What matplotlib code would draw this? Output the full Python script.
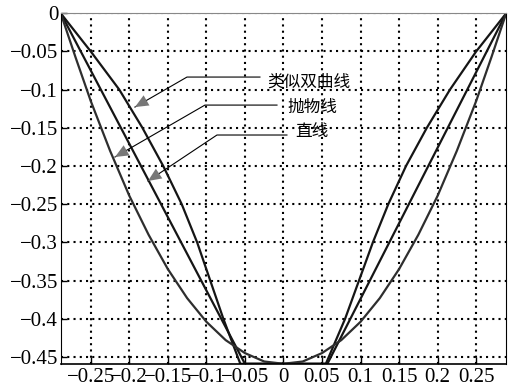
import matplotlib
matplotlib.use("Agg")
import matplotlib.pyplot as plt

# values
parab_x = [-0.289, -0.27, -0.25, -0.225, -0.2, -0.175, -0.15, -0.125, -0.1, -0.075, -0.05, -0.025, 0.0,
           0.025, 0.05, 0.075, 0.1, 0.125, 0.15, 0.175, 0.2, 0.225, 0.25, 0.27, 0.289]
parab_y = [0.0, -0.057, -0.115, -0.180, -0.239, -0.290, -0.335, -0.373, -0.404, -0.428, -0.445, -0.456, -0.459,
           -0.456, -0.445, -0.428, -0.404, -0.373, -0.335, -0.290, -0.239, -0.180, -0.115, -0.057, 0.0]

hyp_x = [-0.289, -0.250, -0.213, -0.183, -0.156, -0.132, -0.112, -0.095, -0.078, -0.056,
         0.055, 0.080, 0.098, 0.116, 0.136, 0.159, 0.186, 0.216, 0.250, 0.289]
hyp_y = [0.0, -0.05, -0.1, -0.15, -0.2, -0.25, -0.3, -0.35, -0.4, -0.459,
         -0.459, -0.4, -0.35, -0.3, -0.25, -0.2, -0.15, -0.1, -0.05, 0.0]

line_x = [-0.289, -0.05, 0.057, 0.289]
line_y = [0.0, -0.459, -0.459, 0.0]

xticks = [-0.25, -0.2, -0.15, -0.1, -0.05, 0, 0.05, 0.1, 0.15, 0.2, 0.25]
xtick_labels = ['\u22120.25', '\u22120.2', '\u22120.15', '\u22120.1', '\u22120.05', '0',
                '0.05', '0.1', '0.15', '0.2', '0.25']
yticks = [0, -0.05, -0.1, -0.15, -0.2, -0.25, -0.3, -0.35, -0.4, -0.45]
ytick_labels = ['0', '\u22120.05', '\u22120.1', '\u22120.15', '\u22120.2', '\u22120.25',
                '\u22120.3', '\u22120.35', '\u22120.4', '\u22120.45']

names = ['类似双曲线', '抛物线', '直线']

plt.rcParams['font.family'] = ['Liberation Serif', 'Noto Sans CJK SC']
plt.rcParams['xtick.labelsize'] = 15
plt.rcParams['ytick.labelsize'] = 15

fig = plt.figure(figsize=(5.08, 3.91), dpi=100)
ax = fig.add_axes([0.120, 0.069, 0.876, 0.897])

ax.plot(hyp_x, hyp_y, color='#151515', lw=1.6)
ax.plot(line_x, line_y, color='#151515', lw=1.6)
ax.plot(parab_x, parab_y, color='#2e2e2e', lw=1.6)

ax.set_xlim(-0.2887, 0.2887)
ax.set_ylim(-0.4593, 0)

ax.set_xticks(xticks, xtick_labels)
ax.set_yticks(yticks, ytick_labels)
ax.tick_params(axis='x', direction='in', length=5, width=1, pad=3)
ax.tick_params(axis='y', direction='in', length=4, width=1, pad=2)

ax.grid(True, color='black', lw=1.5, linestyle=(0, (1, 2)))
ax.set_axisbelow(True)
for side in ['left', 'right']:
    ax.spines[side].set_linewidth(0.8)
ax.spines['top'].set_color('#888888')
ax.spines['top'].set_linewidth(0.8)
ax.spines['bottom'].set_linewidth(1.2)

# leader lines: (text start, knee, arrow tip, text position)
leaders = [
    ((-0.0305, -0.0835), (-0.1252, -0.0835), (-0.1927, -0.1228), (-0.0214, -0.090)),
    ((-0.0084, -0.1202), (-0.1019, -0.1202), (-0.2186, -0.1882), (0.0045, -0.1228)),
    ((0.0045, -0.1594), (-0.0863, -0.1594), (-0.1758, -0.2196), (0.0149, -0.1542)),
]
for name, (end, knee, tip, tpos) in zip(names, leaders):
    ax.plot([end[0], knee[0], tip[0]], [end[1], knee[1], tip[1]], color='black', lw=0.8)
    ax.annotate('', xy=tip, xytext=knee,
                arrowprops=dict(arrowstyle='-|>,head_length=0.8,head_width=0.35',
                                color='#777777', lw=0.01, shrinkA=0, shrinkB=0,
                                mutation_scale=12))
    ax.text(tpos[0], tpos[1], name, fontsize=12, va='center', ha='left',
            family=['Noto Sans CJK SC', 'DejaVu Sans'])

fig.savefig('out.png', dpi=100)
